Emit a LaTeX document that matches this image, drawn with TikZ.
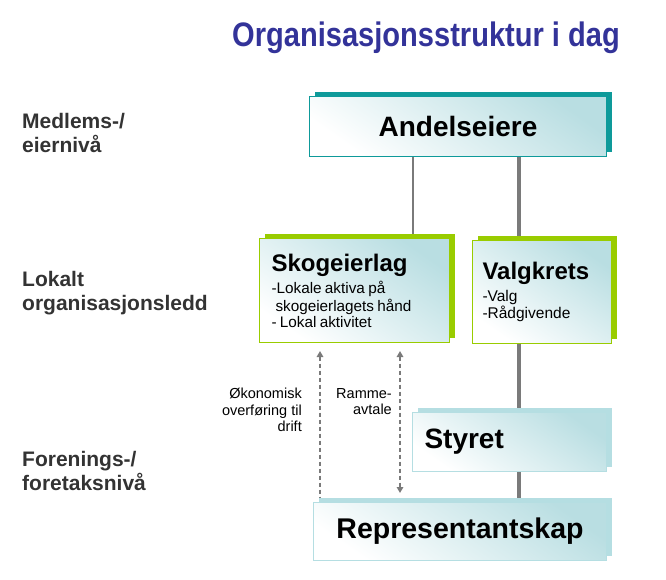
\documentclass[tikz,border=0pt]{standalone}
\usepackage{fontspec}
\setmainfont{Liberation Sans}
\usetikzlibrary{shadows,calc,backgrounds,arrows.meta}
\definecolor{titlec}{HTML}{333399}
\definecolor{labc}{HTML}{333333}
\definecolor{tealdark}{HTML}{0E9A9A}
\definecolor{greenc}{HTML}{99CC00}
\definecolor{teallight}{HTML}{B5DEE2}
\definecolor{boxteal}{HTML}{B9DEE2}
\definecolor{linegray}{HTML}{7A7A7A}
\tikzset{
  boxbase/.style={rectangle, line width=1pt, top color=white, bottom color=boxteal,
    shading angle=145, inner sep=0pt, anchor=north west},
  andelbox/.style={boxbase, draw=tealdark,
    drop shadow={shadow xshift=5.5pt, shadow yshift=4pt, fill=tealdark, opacity=1}},
  greenbox/.style={boxbase, draw=greenc,
    drop shadow={shadow xshift=5.5pt, shadow yshift=4.5pt, fill=greenc, opacity=1}},
  lightbox/.style={boxbase, draw=teallight,
    drop shadow={shadow xshift=5.5pt, shadow yshift=4.5pt, fill=teallight, opacity=1}},
  levellabel/.style={anchor=north west, align=left, text=labc, inner sep=0pt,
    font=\fontsize{21}{24}\selectfont\bfseries},
  smalllabel/.style={anchor=north east, align=right, inner sep=0pt,
    font=\fontsize{14.5}{16.5}\selectfont},
  thinconn/.style={draw=linegray, line width=2.2pt},
  thickconn/.style={draw=linegray, line width=4.3pt},
  tipA/.tip={Triangle[width=6.5pt,length=6pt]},
  dasharrow/.style={draw=linegray, line width=2pt, dash pattern=on 4.5pt off 2.5pt}
}
\begin{document}
\begin{tikzpicture}[x=1pt,y=-1pt]
\useasboundingbox (0,0) rectangle (666,580);
% title
\node[anchor=base, text=titlec, inner sep=0pt, font=\fontsize{34}{34}\selectfont\bfseries]
  (title) at (426,47) {\scalebox{0.855}[1]{Organisasjonsstruktur i dag}};
% level labels
\node[levellabel] (lev1) at (22,113) {Medlems-/\\eiernivå};
\node[levellabel] (lev2) at (22,271) {Lokalt\\organisasjonsledd};
\node[levellabel] (lev3) at (22,451) {Forenings-/\\foretaksnivå};
% boxes
\node[andelbox, minimum width=297pt, minimum height=60pt,
  font=\fontsize{28}{28}\selectfont\bfseries] (andel) at (309,96) {Andelseiere};
\node[greenbox, minimum width=190pt, minimum height=104pt, inner xsep=12pt,
  text width=166pt, align=left] (skog) at (259,238)
  {\fontsize{24}{24}\selectfont\bfseries Skogeierlag\\[3.5pt]
   \fontsize{15.3}{18.5}\selectfont\mdseries -Lokale aktiva på\\
   \hspace*{4pt}skogeierlagets hånd\\
   - Lokal aktivitet};
\node[greenbox, minimum width=139pt, minimum height=103pt, inner xsep=10pt,
  text width=119pt, align=left] (valg) at (472,240)
  {\fontsize{24}{24}\selectfont\bfseries Valgkrets\\[2.5pt]
   \fontsize{15.5}{19}\selectfont\mdseries -Valg\\
   -Rådgivende};
\node[lightbox, minimum width=194pt, minimum height=59pt, inner xsep=12pt,
  text width=170pt, align=left, font=\fontsize{28}{28}\selectfont\bfseries]
  (styret) at (412,412) {Styret};
\node[lightbox, minimum width=293pt, minimum height=58pt,
  font=\fontsize{28.5}{28.5}\selectfont\bfseries] (rep) at (313,502) {Representantskap};
% connector x positions
\coordinate (lx) at (413,0);
\coordinate (rx) at (519,0);
\coordinate (ax1) at (320,0);
\coordinate (ax2) at (400,0);
\begin{pgfonlayer}{background}
  \draw[thinconn] (andel.south -| lx) -- (skog.north -| lx);
  \draw[thickconn] (andel.south -| rx) -- ($(valg.north -| rx)+(0,-4)$);
  \draw[thickconn] (valg.south -| rx) -- ($(styret.north -| rx)+(0,-4)$);
  \draw[thickconn] (styret.south -| rx) -- ($(rep.north -| rx)+(0,-4)$);
\end{pgfonlayer}
% dashed arrows
\draw[dasharrow, tipA-] ($(skog.south -| ax1)+(0,8)$) -- ($(rep.north -| ax1)+(0,-5)$);
\draw[dasharrow, tipA-tipA] ($(skog.south -| ax2)+(0,8)$) -- ($(rep.north -| ax2)+(0,-9)$);
% arrow labels
\node[smalllabel] (oklab) at (302,388) {Økonomisk\\overføring til\\drift};
\node[smalllabel] (ralab) at (392,388) {Ramme-\\avtale};
\end{tikzpicture}
\end{document}
